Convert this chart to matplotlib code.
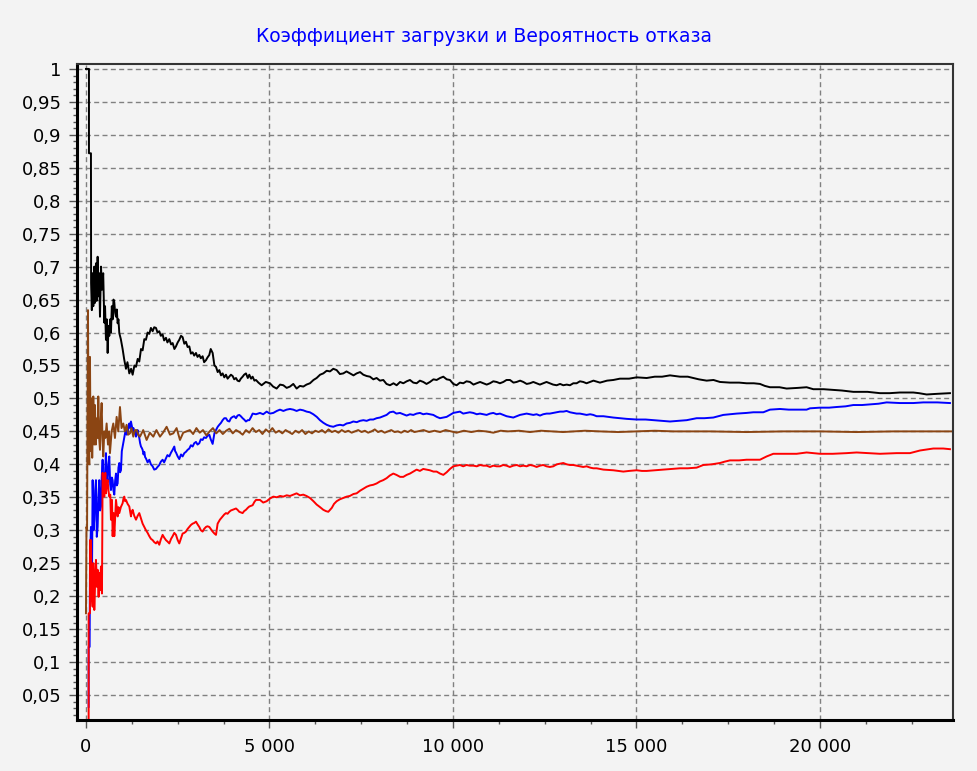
import matplotlib
matplotlib.use("Agg")
import matplotlib.pyplot as plt
from matplotlib.ticker import MultipleLocator, FuncFormatter

plt.rcParams['font.family'] = ['DejaVu Sans']

title = "Коэффициент загрузки и Вероятность отказа"

# (x, y) points
black = [
    (0, 1.0), (82, 1.0), (82, 0.872), (136, 0.872), (140, 0.675), (160, 0.634), (182, 0.690), (200, 0.640),
    (227, 0.700), (245, 0.645), (273, 0.705), (290, 0.648), (318, 0.715), (340, 0.655), (360, 0.690),
    (382, 0.624), (410, 0.700), (436, 0.665), (470, 0.690), (500, 0.615), (520, 0.640), (545, 0.589),
    (570, 0.620), (591, 0.569), (615, 0.610), (636, 0.595), (660, 0.620), (681, 0.600), (705, 0.640),
    (727, 0.620), (750, 0.650), (772, 0.646), (795, 0.630), (818, 0.624), (840, 0.635), (863, 0.614),
    (885, 0.620), (909, 0.599), (950, 0.590), (999, 0.575), (1040, 0.560), (1090, 0.545), (1130, 0.555),
    (1181, 0.538), (1230, 0.545), (1272, 0.536), (1320, 0.550), (1363, 0.548), (1410, 0.560), (1453, 0.556),
    (1500, 0.575), (1544, 0.573), (1590, 0.590), (1635, 0.589), (1680, 0.600), (1726, 0.598), (1770, 0.607),
    (1817, 0.602), (1860, 0.608), (1908, 0.607), (1950, 0.600), (1998, 0.602), (2040, 0.595), (2089, 0.597),
    (2130, 0.588), (2180, 0.592), (2220, 0.585), (2271, 0.590), (2320, 0.582), (2362, 0.584), (2410, 0.575),
    (2453, 0.579), (2500, 0.585), (2543, 0.589), (2590, 0.595), (2634, 0.593), (2680, 0.583), (2725, 0.586),
    (2770, 0.578), (2816, 0.579), (2860, 0.568), (2907, 0.570), (2950, 0.565), (2998, 0.569), (3040, 0.563),
    (3088, 0.566), (3130, 0.561), (3179, 0.564), (3220, 0.555), (3270, 0.558), (3310, 0.562), (3361, 0.566),
    (3400, 0.575), (3452, 0.569), (3500, 0.550), (3543, 0.548), (3590, 0.540), (3633, 0.543), (3680, 0.535),
    (3724, 0.538), (3770, 0.532), (3815, 0.536), (3860, 0.530), (3906, 0.533), (3950, 0.536), (3997, 0.534),
    (4040, 0.529), (4088, 0.531), (4130, 0.527), (4178, 0.526), (4220, 0.530), (4269, 0.533), (4310, 0.536),
    (4360, 0.538), (4410, 0.531), (4451, 0.536), (4500, 0.530), (4542, 0.533), (4590, 0.527), (4633, 0.528),
    (4700, 0.524), (4787, 0.520), (4900, 0.525), (5014, 0.523), (5100, 0.518), (5196, 0.515), (5290, 0.521),
    (5378, 0.520), (5470, 0.516), (5559, 0.518), (5650, 0.522), (5741, 0.515), (5830, 0.519), (5923, 0.518),
    (6010, 0.521), (6104, 0.523), (6200, 0.528), (6286, 0.531), (6380, 0.536), (6468, 0.538), (6560, 0.542),
    (6650, 0.541), (6740, 0.545), (6831, 0.543), (6920, 0.537), (7013, 0.538), (7100, 0.541), (7194, 0.538),
    (7290, 0.535), (7376, 0.538), (7470, 0.540), (7558, 0.536), (7650, 0.534), (7739, 0.533), (7830, 0.529),
    (7921, 0.531), (8010, 0.527), (8103, 0.528), (8190, 0.522), (8284, 0.520), (8380, 0.523), (8466, 0.520),
    (8560, 0.525), (8648, 0.523), (8740, 0.526), (8829, 0.528), (8920, 0.524), (9011, 0.523), (9100, 0.527),
    (9193, 0.525), (9280, 0.522), (9374, 0.525), (9470, 0.529), (9556, 0.528), (9650, 0.531), (9738, 0.533),
    (9830, 0.529), (9919, 0.528), (10010, 0.522), (10101, 0.520), (10190, 0.524), (10283, 0.523),
    (10370, 0.526), (10464, 0.525), (10560, 0.521), (10646, 0.523), (10740, 0.525), (10828, 0.523),
    (10920, 0.521), (11009, 0.523), (11100, 0.526), (11191, 0.525), (11280, 0.523), (11373, 0.525),
    (11460, 0.528), (11554, 0.528), (11650, 0.524), (11736, 0.525), (11830, 0.527), (11918, 0.525),
    (12010, 0.522), (12099, 0.523), (12190, 0.525), (12281, 0.523), (12370, 0.521), (12462, 0.523),
    (12550, 0.525), (12644, 0.523), (12730, 0.521), (12826, 0.520), (12920, 0.522), (13007, 0.520),
    (13100, 0.521), (13189, 0.520), (13280, 0.523), (13371, 0.523), (13460, 0.526), (13552, 0.525),
    (13640, 0.523), (13734, 0.525), (13830, 0.527), (14007, 0.524), (14200, 0.527), (14370, 0.528),
    (14550, 0.530), (14800, 0.530), (15006, 0.532), (15279, 0.531), (15500, 0.533), (15700, 0.533),
    (15915, 0.535), (16050, 0.534), (16187, 0.533), (16400, 0.533), (16550, 0.531), (16700, 0.529),
    (16914, 0.527), (17100, 0.528), (17277, 0.525), (17549, 0.524), (17800, 0.524), (18004, 0.523),
    (18200, 0.523), (18367, 0.522), (18500, 0.519), (18639, 0.517), (18900, 0.517), (19093, 0.515),
    (19400, 0.516), (19638, 0.517), (19820, 0.514), (20100, 0.514), (20365, 0.513), (20600, 0.512),
    (20910, 0.510), (21300, 0.510), (21637, 0.508), (21900, 0.508), (22182, 0.509), (22545, 0.509),
    (22700, 0.508), (22908, 0.506), (23200, 0.507), (23544, 0.508),
]

blue = [
    (73, 0.032), (73, 0.123), (100, 0.123), (110, 0.25), (136, 0.305), (160, 0.20), (182, 0.376), (205, 0.30),
    (227, 0.316), (250, 0.36), (273, 0.376), (295, 0.29), (318, 0.305), (340, 0.35), (363, 0.376), (385, 0.33),
    (409, 0.336), (430, 0.38), (454, 0.407), (477, 0.36), (500, 0.376), (522, 0.39), (545, 0.417), (568, 0.38),
    (591, 0.376), (614, 0.40), (636, 0.412), (660, 0.37), (681, 0.361), (705, 0.38), (727, 0.376), (750, 0.36),
    (772, 0.354), (795, 0.375), (818, 0.386), (840, 0.368), (863, 0.371), (885, 0.395), (909, 0.402),
    (930, 0.388), (954, 0.391), (977, 0.42), (999, 0.427), (1022, 0.435), (1045, 0.442), (1068, 0.448),
    (1090, 0.452), (1113, 0.445), (1136, 0.447), (1160, 0.458), (1181, 0.462), (1205, 0.455), (1226, 0.465),
    (1250, 0.458), (1272, 0.452), (1295, 0.455), (1317, 0.447), (1340, 0.450), (1363, 0.442), (1385, 0.448),
    (1408, 0.452), (1430, 0.445), (1453, 0.440), (1476, 0.432), (1499, 0.427), (1520, 0.425), (1544, 0.422),
    (1568, 0.415), (1590, 0.419), (1612, 0.411), (1635, 0.409), (1680, 0.403), (1726, 0.407), (1770, 0.400),
    (1817, 0.397), (1860, 0.392), (1908, 0.393), (1950, 0.396), (1998, 0.399), (2040, 0.404), (2089, 0.407),
    (2130, 0.403), (2180, 0.409), (2220, 0.414), (2271, 0.412), (2320, 0.418), (2362, 0.422), (2407, 0.427),
    (2430, 0.420), (2453, 0.418), (2500, 0.412), (2543, 0.408), (2590, 0.415), (2634, 0.412), (2680, 0.417),
    (2725, 0.419), (2770, 0.422), (2816, 0.424), (2860, 0.429), (2907, 0.427), (2950, 0.432), (2998, 0.434),
    (3040, 0.430), (3088, 0.432), (3130, 0.438), (3179, 0.437), (3220, 0.441), (3270, 0.440), (3310, 0.443),
    (3361, 0.445), (3400, 0.438), (3452, 0.431), (3500, 0.447), (3543, 0.452), (3590, 0.457), (3633, 0.460),
    (3680, 0.463), (3724, 0.467), (3770, 0.470), (3815, 0.470), (3860, 0.466), (3906, 0.465), (3950, 0.470),
    (3997, 0.472), (4040, 0.473), (4088, 0.470), (4130, 0.474), (4178, 0.475), (4220, 0.473), (4269, 0.470),
    (4310, 0.468), (4360, 0.465), (4410, 0.467), (4451, 0.467), (4500, 0.472), (4542, 0.477), (4633, 0.476),
    (4742, 0.478), (4830, 0.476), (4924, 0.480), (5010, 0.477), (5105, 0.478), (5200, 0.481), (5287, 0.483),
    (5380, 0.481), (5469, 0.483), (5560, 0.484), (5650, 0.483), (5740, 0.481), (5832, 0.483), (5920, 0.482),
    (6014, 0.480), (6100, 0.479), (6195, 0.476), (6290, 0.472), (6377, 0.467), (6470, 0.463), (6559, 0.460),
    (6650, 0.458), (6740, 0.457), (6830, 0.459), (6922, 0.460), (7010, 0.459), (7104, 0.462), (7200, 0.463),
    (7285, 0.465), (7380, 0.464), (7467, 0.466), (7560, 0.467), (7649, 0.466), (7740, 0.468), (7830, 0.468),
    (7920, 0.470), (8012, 0.471), (8100, 0.473), (8193, 0.475), (8280, 0.479), (8375, 0.480), (8460, 0.477),
    (8557, 0.478), (8650, 0.476), (8738, 0.474), (8830, 0.476), (8920, 0.475), (9010, 0.477), (9102, 0.478),
    (9190, 0.476), (9283, 0.477), (9370, 0.476), (9465, 0.475), (9560, 0.472), (9647, 0.470), (9740, 0.471),
    (9828, 0.472), (9920, 0.475), (10010, 0.478), (10100, 0.479), (10192, 0.480), (10280, 0.477),
    (10373, 0.478), (10460, 0.479), (10555, 0.478), (10650, 0.476), (10737, 0.477), (10830, 0.476),
    (10918, 0.475), (11010, 0.477), (11100, 0.478), (11190, 0.476), (11282, 0.477), (11370, 0.475),
    (11463, 0.473), (11550, 0.472), (11645, 0.471), (11740, 0.473), (11827, 0.475), (11920, 0.476),
    (12008, 0.477), (12100, 0.476), (12190, 0.475), (12280, 0.476), (12372, 0.474), (12460, 0.476),
    (12553, 0.477), (12640, 0.477), (12735, 0.478), (12830, 0.479), (12917, 0.480), (13010, 0.480),
    (13098, 0.481), (13190, 0.479), (13280, 0.478), (13370, 0.477), (13462, 0.477), (13550, 0.476),
    (13643, 0.475), (13740, 0.476), (13825, 0.475), (13916, 0.473), (14100, 0.473), (14370, 0.471),
    (14550, 0.470), (14734, 0.469), (15006, 0.468), (15250, 0.468), (15460, 0.467), (15700, 0.466),
    (15915, 0.465), (16150, 0.466), (16369, 0.467), (16641, 0.470), (16850, 0.470), (17095, 0.471),
    (17368, 0.475), (17550, 0.476), (17731, 0.477), (18000, 0.478), (18185, 0.479), (18458, 0.479),
    (18639, 0.483), (18912, 0.484), (19150, 0.483), (19366, 0.483), (19638, 0.483), (19729, 0.485),
    (20002, 0.486), (20250, 0.486), (20456, 0.487), (20700, 0.488), (20910, 0.490), (21150, 0.490),
    (21364, 0.491), (21600, 0.492), (21818, 0.494), (22182, 0.493), (22545, 0.493), (22818, 0.494),
    (23200, 0.494), (23544, 0.493),
]

brown = [
    (0, 0.174), (14, 0.305), (30, 0.300), (55, 0.634), (70, 0.450), (90, 0.400), (109, 0.563), (127, 0.420),
    (150, 0.500), (170, 0.410), (200, 0.503), (225, 0.430), (245, 0.490), (270, 0.430), (300, 0.470),
    (320, 0.440), (336, 0.503), (360, 0.440), (382, 0.422), (405, 0.470), (427, 0.493), (450, 0.440),
    (472, 0.412), (500, 0.450), (530, 0.440), (563, 0.462), (600, 0.430), (630, 0.450), (654, 0.417),
    (700, 0.450), (745, 0.462), (790, 0.440), (836, 0.472), (880, 0.450), (927, 0.487), (970, 0.455),
    (1017, 0.462), (1060, 0.450), (1108, 0.460), (1150, 0.445), (1199, 0.447), (1240, 0.455), (1290, 0.442),
    (1335, 0.452), (1381, 0.452), (1425, 0.445), (1472, 0.442), (1560, 0.452), (1653, 0.437), (1740, 0.448),
    (1835, 0.442), (1920, 0.452), (2017, 0.442), (2100, 0.448), (2198, 0.457), (2290, 0.445), (2380, 0.447),
    (2470, 0.455), (2562, 0.437), (2650, 0.448), (2743, 0.450), (2830, 0.452), (2920, 0.446), (3010, 0.455),
    (3100, 0.448), (3190, 0.452), (3280, 0.444), (3370, 0.450), (3460, 0.455), (3550, 0.447), (3640, 0.452),
    (3730, 0.446), (3820, 0.451), (3910, 0.454), (4000, 0.447), (4090, 0.452), (4180, 0.449), (4270, 0.445),
    (4360, 0.452), (4450, 0.448), (4540, 0.455), (4630, 0.449), (4720, 0.452), (4810, 0.446), (4900, 0.453),
    (4990, 0.449), (5080, 0.455), (5170, 0.448), (5260, 0.451), (5350, 0.447), (5440, 0.452), (5530, 0.449),
    (5620, 0.446), (5710, 0.451), (5800, 0.448), (5890, 0.452), (5980, 0.446), (6070, 0.450), (6160, 0.447),
    (6250, 0.451), (6340, 0.449), (6430, 0.452), (6520, 0.448), (6610, 0.453), (6700, 0.449), (6790, 0.451),
    (6880, 0.448), (6970, 0.452), (7060, 0.449), (7150, 0.451), (7240, 0.448), (7330, 0.450), (7420, 0.452),
    (7510, 0.449), (7600, 0.451), (7690, 0.448), (7780, 0.450), (7870, 0.453), (7960, 0.449), (8050, 0.451),
    (8140, 0.448), (8230, 0.450), (8320, 0.452), (8410, 0.449), (8500, 0.450), (8590, 0.448), (8680, 0.451),
    (8770, 0.449), (8860, 0.452), (8950, 0.449), (9040, 0.450), (9200, 0.452), (9350, 0.449), (9500, 0.451),
    (9650, 0.449), (9800, 0.452), (9950, 0.450), (10100, 0.448), (10300, 0.451), (10500, 0.449),
    (10700, 0.451), (10900, 0.450), (11100, 0.448), (11300, 0.451), (11500, 0.450), (11800, 0.451),
    (12100, 0.449), (12400, 0.451), (12700, 0.450), (13000, 0.449), (13300, 0.450), (13600, 0.451),
    (14000, 0.450), (14500, 0.449), (15000, 0.450), (15500, 0.451), (16000, 0.450), (17000, 0.450),
    (18000, 0.449), (19000, 0.450), (20000, 0.450), (21000, 0.449), (22000, 0.450), (23600, 0.450),
]

red = [
    (73, 0.012), (73, 0.174), (109, 0.174), (109, 0.285), (136, 0.285), (160, 0.20), (182, 0.184), (200, 0.250),
    (214, 0.22), (227, 0.179), (250, 0.22), (273, 0.255), (300, 0.214), (318, 0.240), (345, 0.199),
    (363, 0.235), (382, 0.209), (409, 0.245), (436, 0.204), (454, 0.387), (477, 0.36), (500, 0.351),
    (527, 0.387), (545, 0.356), (568, 0.37), (591, 0.376), (614, 0.36), (636, 0.351), (663, 0.354),
    (681, 0.316), (709, 0.346), (727, 0.291), (754, 0.326), (772, 0.291), (795, 0.32), (818, 0.346),
    (840, 0.335), (863, 0.321), (885, 0.335), (909, 0.326), (950, 0.335), (999, 0.341), (1022, 0.348),
    (1045, 0.351), (1068, 0.344), (1090, 0.346), (1135, 0.340), (1181, 0.336), (1205, 0.328), (1226, 0.321),
    (1250, 0.328), (1272, 0.331), (1315, 0.322), (1363, 0.316), (1410, 0.322), (1453, 0.326), (1500, 0.318),
    (1544, 0.310), (1590, 0.305), (1635, 0.300), (1680, 0.296), (1726, 0.291), (1770, 0.287), (1817, 0.285),
    (1860, 0.282), (1908, 0.280), (1950, 0.283), (1998, 0.278), (2040, 0.286), (2089, 0.293), (2130, 0.289),
    (2180, 0.285), (2220, 0.283), (2271, 0.280), (2320, 0.287), (2362, 0.291), (2407, 0.296), (2453, 0.293),
    (2500, 0.285), (2543, 0.280), (2590, 0.288), (2634, 0.295), (2680, 0.296), (2725, 0.298), (2770, 0.302),
    (2816, 0.305), (2860, 0.308), (2907, 0.310), (2950, 0.311), (2998, 0.313), (3040, 0.309), (3088, 0.305),
    (3130, 0.300), (3179, 0.298), (3220, 0.302), (3270, 0.305), (3310, 0.306), (3361, 0.305), (3400, 0.302),
    (3452, 0.298), (3500, 0.295), (3543, 0.293), (3588, 0.310), (3650, 0.316), (3724, 0.321), (3770, 0.324),
    (3815, 0.326), (3860, 0.325), (3906, 0.328), (3950, 0.330), (3997, 0.331), (4040, 0.332), (4088, 0.333),
    (4130, 0.331), (4178, 0.328), (4220, 0.327), (4269, 0.326), (4310, 0.329), (4360, 0.331), (4410, 0.334),
    (4451, 0.336), (4500, 0.337), (4542, 0.338), (4590, 0.343), (4633, 0.346), (4742, 0.346), (4830, 0.342),
    (4924, 0.344), (5010, 0.348), (5105, 0.351), (5200, 0.350), (5290, 0.352), (5378, 0.351), (5470, 0.353),
    (5560, 0.352), (5650, 0.354), (5740, 0.356), (5830, 0.353), (5923, 0.354), (6010, 0.352), (6104, 0.349),
    (6200, 0.344), (6286, 0.339), (6380, 0.335), (6468, 0.331), (6540, 0.329), (6604, 0.328), (6700, 0.334),
    (6760, 0.340), (6831, 0.344), (6920, 0.347), (7010, 0.349), (7104, 0.351), (7190, 0.352), (7290, 0.355),
    (7376, 0.356), (7470, 0.360), (7560, 0.363), (7649, 0.366), (7740, 0.368), (7830, 0.369), (7921, 0.371),
    (8010, 0.374), (8100, 0.376), (8193, 0.379), (8280, 0.383), (8375, 0.386), (8460, 0.384), (8560, 0.381),
    (8648, 0.381), (8740, 0.384), (8829, 0.386), (8920, 0.389), (9011, 0.392), (9100, 0.390), (9190, 0.393),
    (9283, 0.392), (9370, 0.391), (9470, 0.389), (9556, 0.389), (9650, 0.386), (9738, 0.384), (9830, 0.388),
    (9920, 0.393), (10010, 0.397), (10100, 0.398), (10192, 0.399), (10280, 0.397), (10370, 0.399),
    (10460, 0.398), (10555, 0.398), (10650, 0.397), (10740, 0.399), (10830, 0.398), (10918, 0.398),
    (11010, 0.396), (11100, 0.398), (11190, 0.397), (11282, 0.397), (11370, 0.399), (11460, 0.398),
    (11550, 0.396), (11645, 0.398), (11740, 0.399), (11830, 0.397), (11918, 0.398), (12008, 0.397),
    (12100, 0.399), (12190, 0.398), (12280, 0.396), (12372, 0.398), (12460, 0.399), (12550, 0.397),
    (12640, 0.396), (12735, 0.397), (12830, 0.400), (12920, 0.401), (13007, 0.402), (13100, 0.400),
    (13190, 0.399), (13280, 0.399), (13370, 0.398), (13462, 0.397), (13550, 0.396), (13643, 0.397),
    (13740, 0.395), (13825, 0.394), (13916, 0.394), (14100, 0.392), (14370, 0.391), (14500, 0.390),
    (14643, 0.389), (14800, 0.390), (15006, 0.391), (15150, 0.390), (15279, 0.390), (15500, 0.391),
    (15733, 0.392), (15950, 0.393), (16187, 0.394), (16400, 0.394), (16641, 0.395), (16823, 0.399),
    (17050, 0.400), (17277, 0.402), (17400, 0.404), (17549, 0.406), (17800, 0.406), (18004, 0.407),
    (18200, 0.407), (18367, 0.407), (18549, 0.412), (18730, 0.416), (19000, 0.416), (19366, 0.416),
    (19638, 0.418), (20002, 0.416), (20350, 0.416), (20729, 0.417), (21001, 0.418), (21300, 0.417),
    (21637, 0.416), (22091, 0.417), (22454, 0.417), (22727, 0.421), (23090, 0.424), (23363, 0.424),
    (23544, 0.423),
]

bg = '#f3f3f3'
fig = plt.figure(figsize=(9.78, 7.71), dpi=100, facecolor=bg)
ax = fig.add_axes([0.0787, 0.0661, 0.8957, 0.851], facecolor=bg)

for pts, col in [(black, 'black'), (blue, '#0000ff'), (brown, '#8b4513'), (red, '#ff0000')]:
    xs, ys = zip(*pts)
    ax.plot(xs, ys, color=col, lw=1.4)

ax.set_xlim(-245, 23626)
ax.set_ylim(0.012, 1.0076)

ax.xaxis.set_major_locator(MultipleLocator(5000))
ax.xaxis.set_minor_locator(MultipleLocator(1250))
ax.yaxis.set_major_locator(MultipleLocator(0.05))
ax.yaxis.set_minor_locator(MultipleLocator(0.01))
ax.xaxis.set_major_formatter(FuncFormatter(lambda v, p: f"{int(round(v)):,}".replace(",", " ")))
ax.yaxis.set_major_formatter(FuncFormatter(lambda v, p: f"{v:.2f}".rstrip('0').rstrip('.').replace('.', ',')))

ax.grid(True, which='major', color='#808080', linestyle=(0, (3.6, 2.4)), lw=1.0)
ax.set_axisbelow(True)

ax.tick_params(which='major', direction='out', length=6, width=1, color='#555555', labelsize=13, pad=5)
ax.tick_params(which='minor', direction='out', length=3, width=1, color='#555555')
ax.tick_params(axis='x', which='major', pad=7)

for side in ['left', 'bottom']:
    ax.spines[side].set_linewidth(2.2)
for side in ['top', 'right']:
    ax.spines[side].set_linewidth(1.5)
    ax.spines[side].set_color('#333333')

fig.text(0.495, 1 - 37 / 771, title, color='#0000ff', fontsize=13.5, ha='center', va='center')

plt.savefig("out.png", dpi=100, facecolor=bg)
plt.close()
